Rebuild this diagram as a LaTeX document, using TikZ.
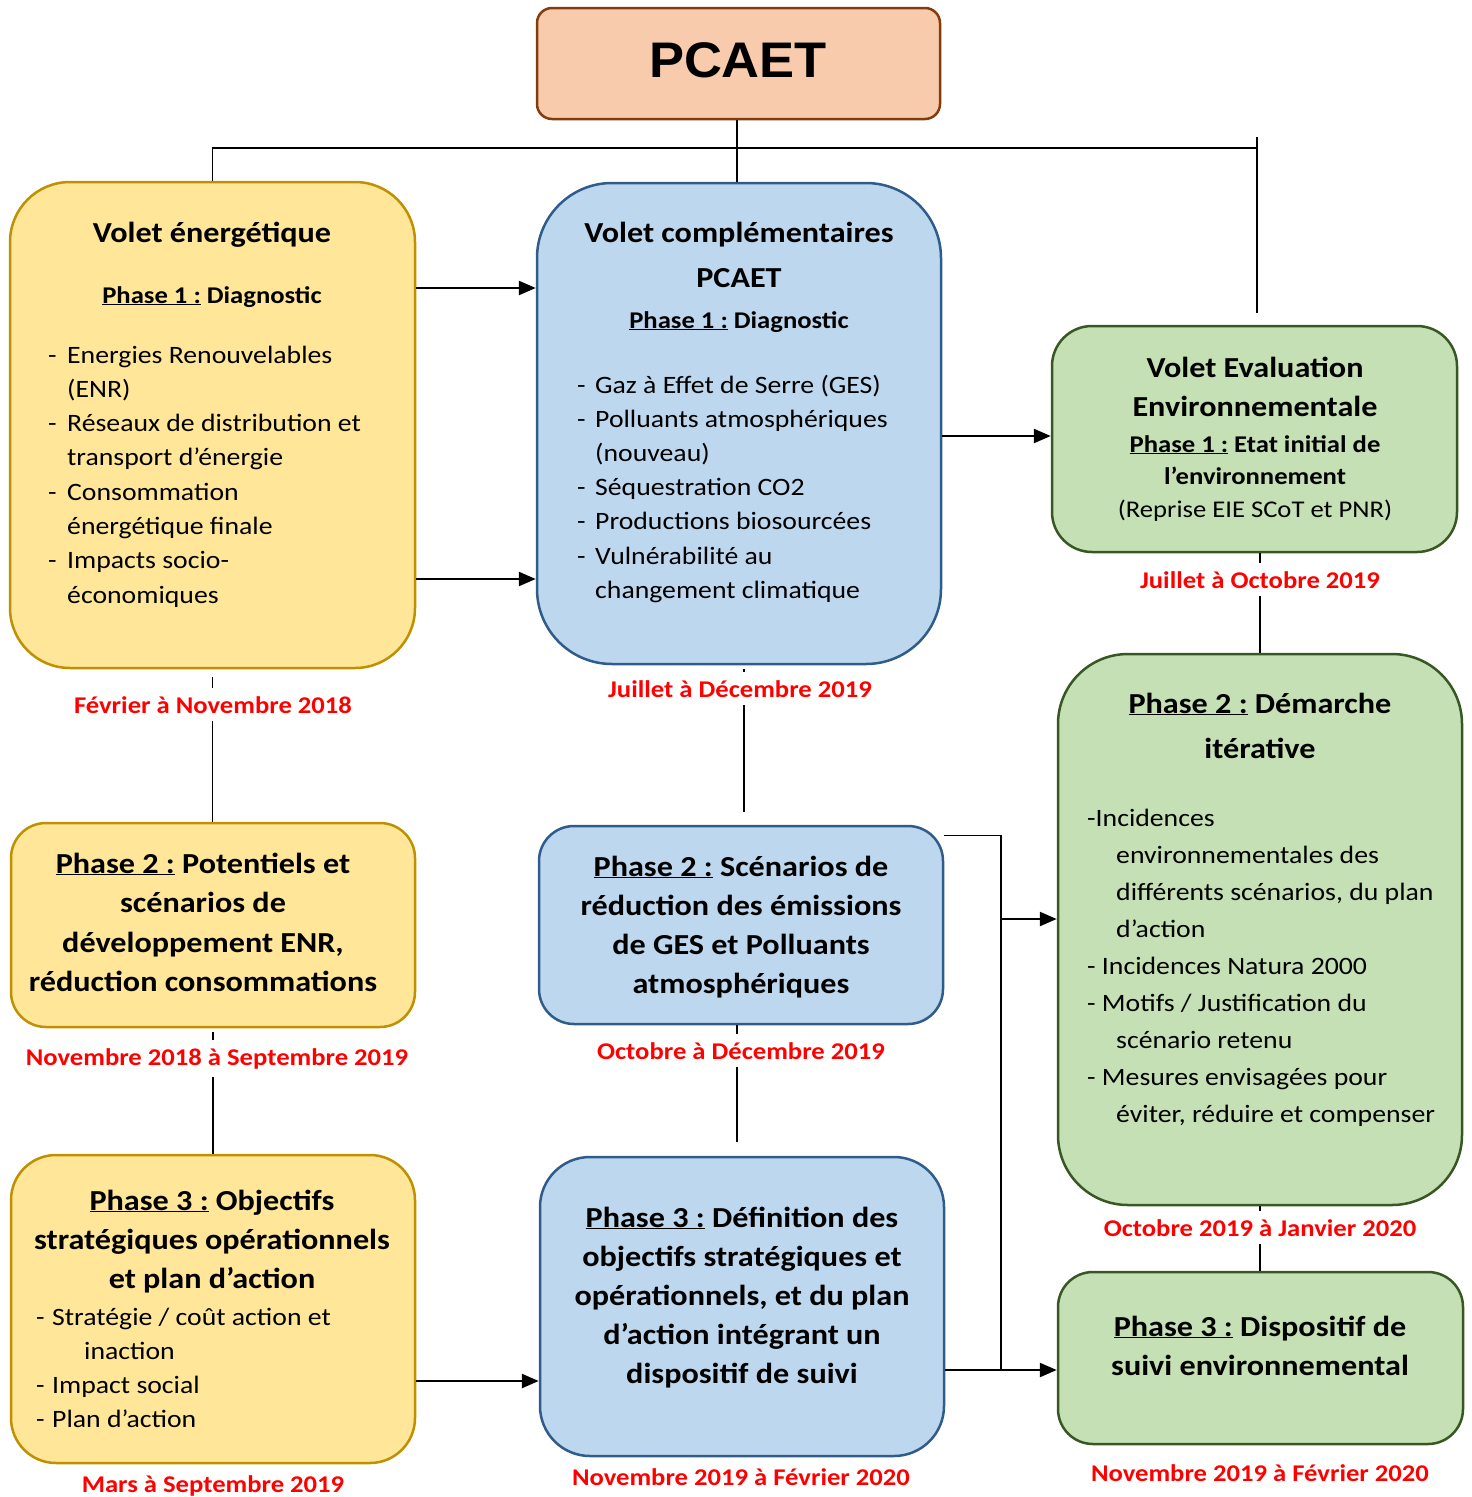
\documentclass[tikz,border=0pt]{standalone}
\usepackage{fontspec}
\setmainfont[FakeStretch=1.11]{Carlito}
\newfontfamily\bigfont[FakeStretch=1.05]{Liberation Sans}
\usetikzlibrary{arrows.meta}

\definecolor{pfill}{HTML}{F8CBAD}
\definecolor{pline}{HTML}{843C0C}
\definecolor{yfill}{HTML}{FFE699}
\definecolor{yline}{HTML}{BF9000}
\definecolor{bfill}{HTML}{BDD7EE}
\definecolor{bline}{HTML}{2F5C8A}
\definecolor{gfill}{HTML}{C5E0B4}
\definecolor{gline}{HTML}{385723}
\definecolor{datered}{HTML}{FF0000}

\newcommand{\dashitem}[1][19pt]{\makebox[#1][l]{-}}

\tikzset{
  box/.style={draw, line width=2.5pt, inner sep=0pt},
  pbox/.style={box, fill=pfill, draw=pline, rounded corners=15pt},
  ybox/.style={box, fill=yfill, draw=yline},
  bbox/.style={box, fill=bfill, draw=bline},
  gbox/.style={box, fill=gfill, draw=gline},
  ttl/.style={font=\bfseries\fontsize{29}{35}\selectfont, anchor=base, inner sep=0pt},
  sub/.style={font=\bfseries\fontsize{24}{29}\selectfont, anchor=base, inner sep=0pt},
  itm/.style={font=\fontsize{25}{30}\selectfont, anchor=base west, inner sep=0pt},
  date/.style={font=\bfseries\fontsize{24}{28}\selectfont, text=datered, fill=white,
    anchor=base, inner xsep=3pt, inner ysep=8pt},
  link/.style={line width=1.2pt},
  arrow/.style={line width=2.5pt, -{Triangle[length=17pt, width=14pt]}},
}

\begin{document}
\begin{tikzpicture}[x=1pt, y=-1pt]
    \useasboundingbox (0, 0) rectangle (1472, 1497) ;

    % boxes
    \node[pbox, minimum width=403pt, minimum height=111pt] (pcaet) at (738.5, 63.5) {} ;
    \node[ybox, rounded corners=60pt, minimum width=405pt, minimum height=486pt] (y1) at (212.5, 425) {} ;
    \node[ybox, rounded corners=35pt, minimum width=404pt, minimum height=204pt] (y2) at (213, 925) {} ;
    \node[ybox, rounded corners=45pt, minimum width=404pt, minimum height=308pt] (y3) at (213, 1309) {} ;
    \node[bbox, rounded corners=75pt, minimum width=404pt, minimum height=481pt] (b1) at (739, 423.5) {} ;
    \node[bbox, rounded corners=35pt, minimum width=404pt, minimum height=198pt] (b2) at (741, 925) {} ;
    \node[bbox, rounded corners=50pt, minimum width=404pt, minimum height=299pt] (b3) at (742, 1306.5) {} ;
    \node[gbox, rounded corners=40pt, minimum width=405pt, minimum height=226pt] (g1) at (1254.5, 439) {} ;
    \node[gbox, rounded corners=70pt, minimum width=404pt, minimum height=551pt] (g2) at (1260, 929.5) {} ;
    \node[gbox, rounded corners=35pt, minimum width=405pt, minimum height=172pt] (g3) at (1260.5, 1358) {} ;

    % connectors
    \coordinate (busend) at (1257, 148) ;
    \coordinate (split) at (1001, 919) ;
    \coordinate (bend) at (1001, 1370) ;
    \draw[link] (y1.north) |- (busend) ;
    \draw[link] ([xshift=-1.5pt]pcaet.south) -- ([xshift=-1.5pt]pcaet.south |- b1.north) ;
    \draw[link, shorten >=12pt] ([yshift=11pt]busend) -- (busend |- g1.north) ;
    \draw[link, shorten <=8pt] (y1.south) -- (y1.south |- y2.north) ;
    \draw[link, shorten <=4pt] (y2.south) -- (y2.south |- y3.north) ;
    \draw[link, shorten <=4pt, shorten >=13pt] ([xshift=5pt]b1.south) -- ([xshift=5pt]b1.south |- b2.north) ;
    \draw[link, shorten >=14pt] ([xshift=-4pt]b2.south) -- ([xshift=-4pt]b2.south |- b3.north) ;
    \draw[link] (g2.north |- g1.south) -- (g2.north) ;
    \draw[link] (g2.south) -- (g2.south |- g3.north) ;
    \draw[link] ([yshift=-11pt]b2.north east) -| (bend) ;
    \draw[link] (b3.east |- bend) -- (bend) ;
    \draw[arrow] (y1.east |- 0,288) -- (b1.west |- 0,288) ;
    \draw[arrow] (y1.east |- 0,579) -- (b1.west |- 0,579) ;
    \draw[arrow] (b1.east |- 0,436) -- (g1.west |- 0,436) ;
    \draw[arrow] (split) -- (g2.west |- split) ;
    \draw[arrow] (bend) -- (g3.west |- bend) ;
    \draw[arrow] (y3.east |- 0,1381) -- (b3.west |- 0,1381) ;

    % title
    \node[anchor=base, inner sep=0pt, font=\bigfont\bfseries\fontsize{50}{60}\selectfont] (pcaettxt) at (738, 77) {PCAET} ;

    % volet energetique
    \node[ttl] (y1t) at (212, 242) {Volet énergétique} ;
    \node[sub] (y1s) at (212, 303) {\underline{Phase 1 :} Diagnostic} ;
    \foreach \t [count=\i from 0] in {\dashitem Energies Renouvelables, \hspace{19pt}(ENR),
        \dashitem Réseaux de distribution et, \hspace{19pt}transport d’énergie,
        \dashitem Consommation, \hspace{19pt}énergétique finale,
        \dashitem Impacts socio-, \hspace{19pt}économiques}
      \node[itm] (y1l\i) at (48, 363+34.3*\i) {\t} ;
    \node[ttl] (y2a) at (203, 873) {\underline{Phase 2 :} Potentiels et} ;
    \node[ttl] (y2b) at (203, 912) {scénarios de} ;
    \node[ttl] (y2c) at (203, 952) {développement ENR,} ;
    \node[ttl] (y2d) at (203, 991) {réduction consommations} ;
    \node[ttl] (y3a) at (212, 1210) {\underline{Phase 3 :} Objectifs} ;
    \node[ttl] (y3b) at (212, 1249) {stratégiques opérationnels} ;
    \node[ttl] (y3c) at (212, 1288) {et plan d’action} ;
    \foreach \t [count=\i from 0] in {\dashitem[16pt]Stratégie / coût action et, \hspace{48pt}inaction,
        \dashitem[16pt]Impact social, \dashitem[16pt]Plan d’action}
      \node[itm] (y3l\i) at (36, 1325+34*\i) {\t} ;

    % volet complementaires
    \node[ttl] (b1t) at (739, 242) {Volet complémentaires} ;
    \node[ttl] (b1u) at (739, 287) {PCAET} ;
    \node[sub] (b1s) at (739, 328) {\underline{Phase 1 :} Diagnostic} ;
    \foreach \t [count=\i from 0] in {\dashitem[18pt]Gaz à Effet de Serre (GES),
        \dashitem[18pt]Polluants atmosphériques, \hspace{18pt}(nouveau),
        \dashitem[18pt]Séquestration CO2, \dashitem[18pt]Productions biosourcées,
        \dashitem[18pt]Vulnérabilité au, \hspace{18pt}changement climatique}
      \node[itm] (b1l\i) at (577, 393+34.2*\i) {\t} ;
    \node[ttl] (b2a) at (741, 876) {\underline{Phase 2 :} Scénarios de} ;
    \node[ttl] (b2b) at (741, 915) {réduction des émissions} ;
    \node[ttl] (b2c) at (741, 954) {de GES et Polluants} ;
    \node[ttl] (b2d) at (741, 993) {atmosphériques} ;
    \node[ttl] (b3a) at (742, 1227) {\underline{Phase 3 :} Définition des} ;
    \node[ttl] (b3b) at (742, 1266) {objectifs stratégiques et} ;
    \node[ttl] (b3c) at (742, 1305) {opérationnels, et du plan} ;
    \node[ttl] (b3d) at (742, 1344) {d’action intégrant un} ;
    \node[ttl] (b3e) at (742, 1383) {dispositif de suivi} ;

    % volet evaluation environnementale
    \node[ttl] (g1t) at (1255, 377) {Volet Evaluation} ;
    \node[ttl] (g1u) at (1255, 416) {Environnementale} ;
    \node[sub] (g1s) at (1255, 452) {\underline{Phase 1 :} Etat initial de} ;
    \node[sub] (g1v) at (1255, 484) {l’environnement} ;
    \node[anchor=base, inner sep=0pt, font=\fontsize{24}{28}\selectfont] (g1r) at (1255, 517) {(Reprise EIE SCoT et PNR)} ;
    \node[ttl] (g2a) at (1260, 713) {\underline{Phase 2 :} Démarche} ;
    \node[ttl] (g2b) at (1260, 758) {itérative} ;
    \foreach \t [count=\i from 0] in {-Incidences, \hspace{29pt}environnementales des,
        \hspace{29pt}{différents scénarios, du plan}, \hspace{29pt}d’action,
        - Incidences Natura 2000, - Motifs / Justification du, \hspace{29pt}scénario retenu,
        - Mesures envisagées pour, \hspace{29pt}{éviter, réduire et compenser}}
      \node[itm] (g2l\i) at (1087, 826+37*\i) {\t} ;
    \node[ttl] (g3a) at (1260, 1336) {\underline{Phase 3 :} Dispositif de} ;
    \node[ttl] (g3b) at (1260, 1375) {suivi environnemental} ;

    % dates
    \node[date] (d1) at (213, 713) {Février à Novembre 2018} ;
    \node[date] (d2) at (217, 1065) {Novembre 2018 à Septembre 2019} ;
    \node[date] (d3) at (213, 1492) {Mars à Septembre 2019} ;
    \node[date] (d4) at (740, 697) {Juillet à Décembre 2019} ;
    \node[date] (d5) at (741, 1059) {Octobre à Décembre 2019} ;
    \node[date] (d6) at (741, 1485) {Novembre 2019 à Février 2020} ;
    \node[date] (d7) at (1260, 588) {Juillet à Octobre 2019} ;
    \node[date] (d8) at (1260, 1236) {Octobre 2019 à Janvier 2020} ;
    \node[date] (d9) at (1260, 1481) {Novembre 2019 à Février 2020} ;
  \end{tikzpicture}
\end{document}
